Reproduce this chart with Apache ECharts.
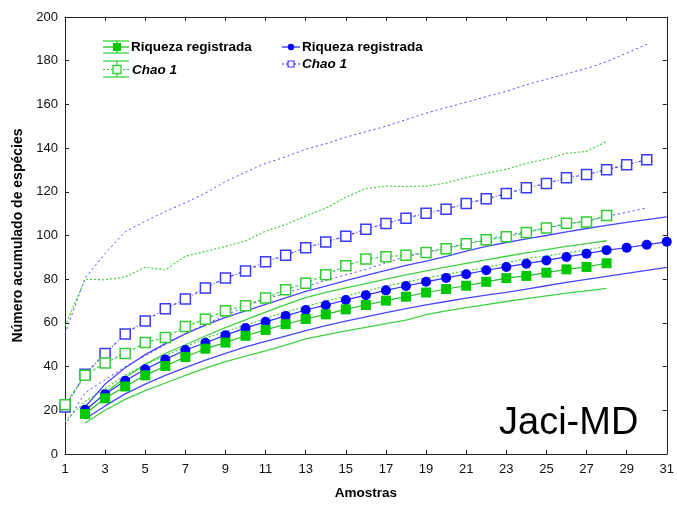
<!DOCTYPE html>
<html>
<head>
<meta charset="utf-8">
<script src="https://cdn.jsdelivr.net/npm/echarts@6/dist/echarts.min.js"></script>
<style>
html,body{margin:0;padding:0;background:#fff;}
#c{width:677px;height:505px;}
</style>
</head>
<body>
<div id="c"></div>
<script>
// Sample numbers (x axis)
const samplesGreen = [1,2,3,4,5,6,7,8,9,10,11,12,13,14,15,16,17,18,19,20,21,22,23,24,25,26,27,28];
const samplesBlue  = [1,2,3,4,5,6,7,8,9,10,11,12,13,14,15,16,17,18,19,20,21,22,23,24,25,26,27,28,29,30,31];
const xTickLabels = [1,3,5,7,9,11,13,15,17,19,21,23,25,27,29,31];
const yTickLabels = [0,20,40,60,80,100,120,140,160,180,200];

// Green group
const greenRiqueza      = [null,18.3,25.5,30.9,36.0,40.3,44.4,48.2,51.0,54.1,56.8,59.4,61.8,63.9,66.2,68.2,70.2,72.0,73.9,75.5,77.0,78.8,80.5,81.5,83.0,84.5,85.6,87.3];
const greenRiquezaUpper = [null,19.5,28,35,41,46,50,54,57.8,61.4,64.9,68.4,71.6,74,76,78,80,82,83.8,85.5,87.2,88.8,90.5,92,93.5,95,96.3,97.6];
const greenRiquezaLower = [null,14.2,20,25,29,32.5,36,39.3,42.3,44.8,47.2,49.8,52.7,54.5,56.3,58,59.7,61.3,63.8,65.5,67,68.4,69.8,71.1,72.4,73.6,74.7,75.8];
const greenChao         = [22.5,36,41.7,46,51,53.3,58.3,61.7,65.6,67.9,71.4,75.2,78.2,82,86.2,89.2,90.3,91,92.2,93.9,96.2,98,99.4,101.4,103.4,105.6,106.2,109.2];
const greenChaoUpper    = [58.5,80,79.7,81,85.5,84.2,90.5,92.7,95,97.5,102,105,109,112.5,117.5,121.5,122.6,122.4,122.6,124,126.5,128.5,130.3,133,135,137.6,138.5,143];
const greenChaoLower    = [15,24,30,36,41,45,49,53,56,59,62,65,67.5,70,72.3,74.6,76.8,78.7,80.5,82.3,83.8,85.3,87.5,89.5,90.6,92,93.5,95];

// Blue group
const blueRiqueza      = [null,20.2,27.4,33.5,38.8,43.3,47.6,50.9,54.4,57.7,60.5,63.2,65.9,68.1,70.5,72.7,74.9,76.9,78.8,80.6,82.3,84.1,85.6,87.1,88.6,90.2,91.7,93.3,94.4,95.8,97.1];
const blueRiquezaUpper = [null,21.5,32,39.5,45.5,50.5,55,59,62.5,65.5,68.5,71.5,74.4,76.8,79.3,81.7,84,86.3,88.3,90.5,92.8,95,96.8,98.5,100,101.7,103.2,104.6,106,107.3,108.5];
const blueRiquezaLower = [null,16,22,27.5,32,36,39.5,43,46,49,51.5,54,56.5,58.7,60.8,62.8,64.7,66.5,68.2,69.8,71.3,72.7,74,75.5,77,78.5,79.9,81.3,82.7,84,85.4];
const blueChao         = [21.5,36.5,46,54.9,60.9,66.5,70.9,76,80.5,83.8,88,91,94.4,97,99.7,102.9,105.5,107.9,110.2,112,114.7,116.8,119.2,121.8,123.8,126.4,127.9,130.1,132.4,134.7];
const blueChaoUpper    = [55,80.5,91.8,101.7,106.5,111,115,119.4,124.7,129,133,136,139.5,142,145,147.5,150,153,156,158.5,161,163.5,166,169,171.5,174,176.5,179.5,183.5,187.5];
const blueChaoLower    = [13.2,28,34,40,45,50,55,59.5,63.5,67.5,71,73.5,76.5,79.5,82,84.5,87.5,90.3,92.3,94.3,96.2,98.2,100.2,101.8,103.4,105,106.8,108.7,110.6,112.6];

function pairs(xs, ys){
  const out = [];
  for (let i = 0; i < ys.length; i++) { if (ys[i] !== null) out.push([xs[i], ys[i]]); }
  return out;
}

const FONT = '"Liberation Sans", Arial, sans-serif';
const GREEN = '#00c800', GREEN_L = '#3fd23f', BLUE = '#0000ff', BLUE_L = '#4646ff';

function lineSeries(data, color, width, type, z){
  return { type:'line', data, showSymbol:false, symbol:'none', silent:true, z:z||2,
           lineStyle:{color, width, type}, animation:false };
}

const chart = echarts.init(document.getElementById('c'), null, {renderer:'canvas'});
const option = {
  animation:false,
  backgroundColor:'#fff',
  grid:{left:65, right:3, top:17, bottom:48, containLabel:false},
  xAxis:[{
    type:'value', min:1, max:31, interval:2, position:'bottom',
    name:'Amostras', nameLocation:'middle', nameGap:32,
    nameTextStyle:{fontFamily:FONT, fontWeight:'bold', fontSize:13.5, color:'#000'},
    axisLine:{show:true, onZero:false, lineStyle:{color:'#222', width:1}},
    axisTick:{show:true, inside:true, length:4, lineStyle:{color:'#222'}},
    axisLabel:{fontFamily:FONT, fontSize:13, color:'#111', margin:9,
      formatter:function(v){ return xTickLabels.indexOf(v) >= 0 ? String(v) : ''; }},
    splitLine:{show:false}
  },{
    type:'value', min:1, max:31, interval:2, position:'top',
    axisLine:{show:true, onZero:false, lineStyle:{color:'#222', width:1}},
    axisTick:{show:true, inside:true, length:4, lineStyle:{color:'#222'}},
    axisLabel:{show:false}, splitLine:{show:false}
  }],
  yAxis:[{
    type:'value', min:0, max:200, interval:20, position:'left',
    name:'Número acumulado de espécies', nameLocation:'middle', nameGap:40,
    nameTextStyle:{fontFamily:FONT, fontWeight:'bold', fontSize:14, color:'#000'},
    axisLine:{show:true, onZero:false, lineStyle:{color:'#222', width:1}},
    axisTick:{show:true, inside:true, length:4, lineStyle:{color:'#222'}},
    axisLabel:{fontFamily:FONT, fontSize:13, color:'#111', margin:7,
      formatter:function(v){ return yTickLabels.indexOf(v) >= 0 ? String(v) : ''; }},
    splitLine:{show:false}
  },{
    type:'value', min:0, max:200, interval:20, position:'right',
    axisLine:{show:true, onZero:false, lineStyle:{color:'#222', width:1}},
    axisTick:{show:true, inside:true, length:4, lineStyle:{color:'#222'}},
    axisLabel:{show:false}, splitLine:{show:false}
  }],
  series:[
    // confidence bands of Chao 1 (dotted)
    lineSeries(pairs(samplesBlue, blueChaoUpper), BLUE_L, 1, [2,3], 2),
    lineSeries(pairs(samplesBlue, blueChaoLower), BLUE_L, 1, [2,3], 2),
    lineSeries(pairs(samplesGreen, greenChaoUpper), GREEN_L, 1.2, [2,2], 2),
    lineSeries(pairs(samplesGreen, greenChaoLower), GREEN_L, 1.2, [2,2], 2),
    // confidence bands of Riqueza (solid)
    lineSeries(pairs(samplesBlue, blueRiquezaUpper), BLUE_L, 1.3, 'solid', 3),
    lineSeries(pairs(samplesBlue, blueRiquezaLower), BLUE_L, 1.3, 'solid', 3),
    lineSeries(pairs(samplesGreen, greenRiquezaUpper), GREEN_L, 1.3, 'solid', 3),
    lineSeries(pairs(samplesGreen, greenRiquezaLower), GREEN_L, 1.3, 'solid', 3),
    // Chao 1 means (open squares)
    { type:'line', data:pairs(samplesBlue, blueChao), symbol:'rect', symbolSize:10, z:5, animation:false,
      lineStyle:{color:BLUE_L, width:1.2, type:[3,2,1,2]},
      itemStyle:{color:'#fff', borderColor:'#3a3aff', borderWidth:1.5} },
    { type:'line', data:pairs(samplesGreen, greenChao), symbol:'rect', symbolSize:10, z:5, animation:false,
      lineStyle:{color:GREEN_L, width:1.2, type:[3,2]},
      itemStyle:{color:'#fff', borderColor:'#33cc33', borderWidth:1.5} },
    // Riqueza means (filled)
    { type:'line', data:pairs(samplesBlue, blueRiqueza), symbol:'circle', symbolSize:10, z:6, animation:false,
      lineStyle:{color:'#3030ff', width:1.2},
      itemStyle:{color:BLUE, borderWidth:0} },
    { type:'line', data:pairs(samplesGreen, greenRiqueza), symbol:'rect', symbolSize:10, z:6, animation:false,
      lineStyle:{color:'#22c022', width:1.2},
      itemStyle:{color:GREEN, borderWidth:0} }
  ],
  graphic:[
    // green legend - Riqueza registrada
    {type:'line', shape:{x1:103,y1:41,x2:129,y2:41}, style:{stroke:GREEN_L, lineWidth:1.3}, z:10},
    {type:'line', shape:{x1:103,y1:47,x2:129,y2:47}, style:{stroke:'#22c022', lineWidth:1.3}, z:10},
    {type:'line', shape:{x1:103,y1:53,x2:129,y2:53}, style:{stroke:GREEN_L, lineWidth:1.3}, z:10},
    {type:'line', shape:{x1:117,y1:41,x2:117,y2:53}, style:{stroke:'#22c022', lineWidth:1.3}, z:10},
    {type:'rect', shape:{x:113,y:43,width:8,height:8}, style:{fill:GREEN}, z:11},
    {type:'text', style:{text:'Riqueza registrada', x:131, y:47, fill:'#000', font:'bold 13.5px '+FONT,
      textAlign:'left', textVerticalAlign:'middle', align:'left', verticalAlign:'middle'}, z:10},
    // green legend - Chao 1
    {type:'line', shape:{x1:103,y1:61,x2:129,y2:61}, style:{stroke:GREEN_L, lineWidth:1.3}, z:10},
    {type:'line', shape:{x1:103,y1:69.5,x2:129,y2:69.5}, style:{stroke:GREEN_L, lineWidth:1.2, lineDash:[2,2]}, z:10},
    {type:'line', shape:{x1:103,y1:77,x2:129,y2:77}, style:{stroke:GREEN_L, lineWidth:1.3}, z:10},
    {type:'line', shape:{x1:117,y1:61,x2:117,y2:77}, style:{stroke:GREEN_L, lineWidth:1.3}, z:10},
    {type:'rect', shape:{x:113,y:65.5,width:8,height:8}, style:{fill:'#fff', stroke:'#33cc33', lineWidth:1.3}, z:11},
    {type:'text', style:{text:'Chao 1', x:132, y:70, fill:'#000', font:'italic bold 13.5px '+FONT,
      textAlign:'left', textVerticalAlign:'middle', align:'left', verticalAlign:'middle'}, z:10},
    // blue legend - Riqueza registrada
    {type:'line', shape:{x1:282,y1:47,x2:300,y2:47}, style:{stroke:'#3030ff', lineWidth:1.3}, z:10},
    {type:'circle', shape:{cx:291,cy:47,r:3.2}, style:{fill:BLUE}, z:11},
    {type:'text', style:{text:'Riqueza registrada', x:302, y:47, fill:'#000', font:'bold 13.5px '+FONT,
      textAlign:'left', textVerticalAlign:'middle', align:'left', verticalAlign:'middle'}, z:10},
    // blue legend - Chao 1
    {type:'line', shape:{x1:282,y1:64,x2:300,y2:64}, style:{stroke:BLUE_L, lineWidth:1.2, lineDash:[2,2]}, z:10},
    {type:'rect', shape:{x:288,y:61,width:6,height:6}, style:{fill:'#fff', stroke:'#3a3aff', lineWidth:1.2}, z:11},
    {type:'text', style:{text:'Chao 1', x:302, y:64, fill:'#000', font:'italic bold 13.5px '+FONT,
      textAlign:'left', textVerticalAlign:'middle', align:'left', verticalAlign:'middle'}, z:10},
    // site label
    {type:'text', style:{text:'Jaci-MD', x:499, y:424, fill:'#000', font:'38px '+FONT,
      textAlign:'left', textVerticalAlign:'middle', align:'left', verticalAlign:'middle'}, z:10}
  ]
};
chart.setOption(option);
</script>
</body>
</html>
